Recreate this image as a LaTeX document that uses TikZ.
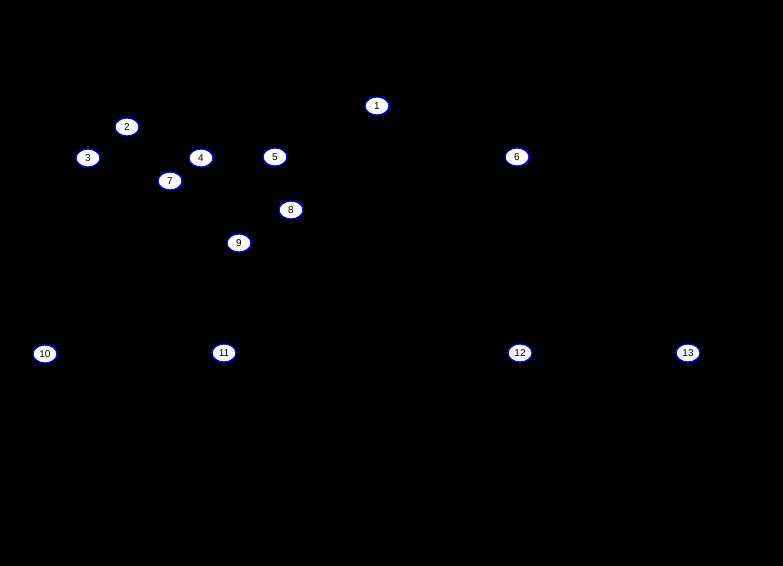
\documentclass[tikz,border=0pt]{standalone}
\usepackage{fontspec}
\setmainfont{Liberation Sans}
\usetikzlibrary{shapes.geometric}
\begin{document}
\begin{tikzpicture}[x=1bp,y=-1bp,
  vertex/.style={ellipse,draw=blue,line width=1.2bp,fill=white,inner sep=0pt,
    minimum width=24bp,minimum height=18bp,font=\fontsize{10}{11}\selectfont,text=black}]
\fill[black] (0,0) rectangle (783,566);
\useasboundingbox (0,0) rectangle (783,566);
\node[vertex] (n1) at (377,106) {1};
\node[vertex] (n2) at (127,127) {2};
\node[vertex] (n3) at (88,158) {3};
\node[vertex] (n4) at (201,158) {4};
\node[vertex] (n5) at (275,157) {5};
\node[vertex] (n6) at (517,157) {6};
\node[vertex] (n7) at (170,181) {7};
\node[vertex] (n8) at (291,210) {8};
\node[vertex] (n9) at (239,243) {9};
\node[vertex] (n10) at (45,354) {10};
\node[vertex] (n11) at (224,353) {11};
\node[vertex] (n12) at (520,353) {12};
\node[vertex] (n13) at (688,353) {13};
\end{tikzpicture}
\end{document}
